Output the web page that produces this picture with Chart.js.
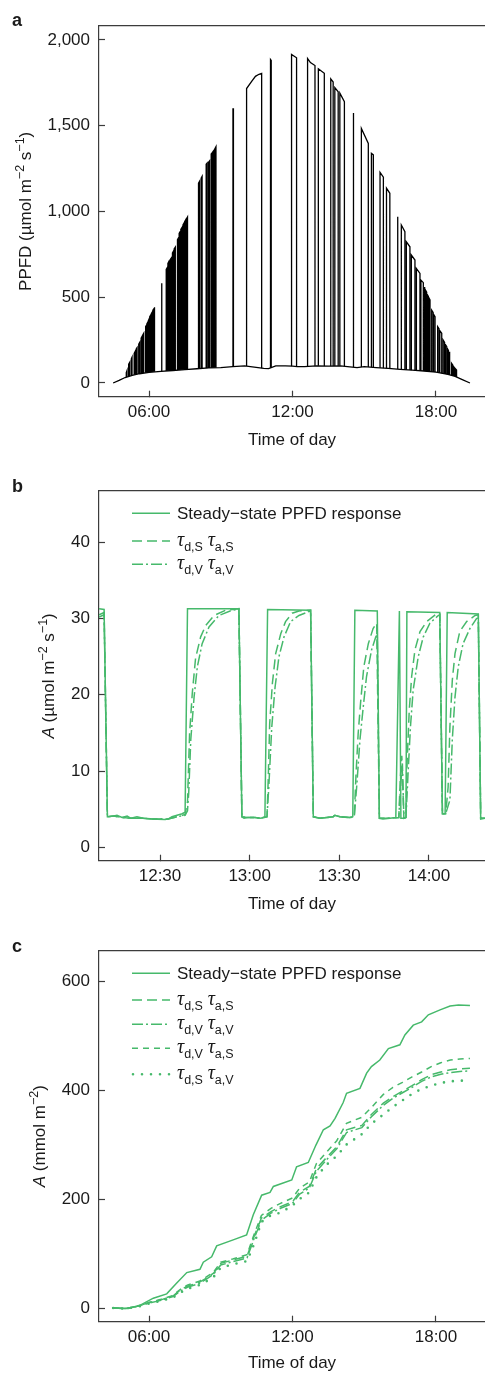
<!DOCTYPE html>
<html>
<head>
<meta charset="utf-8">
<title>PPFD and leaf assimilation</title>
<script src="https://cdn.jsdelivr.net/npm/chart.js"></script>
<style>
  html, body { margin: 0; padding: 0; background: #fff; }
  body { width: 485px; height: 1374px; overflow: hidden; position: relative; }
  canvas { position: absolute; left: 0; }
</style>
</head>
<body>
<canvas id="chartA" width="485" height="462" style="top:0"></canvas>
<canvas id="chartB" width="485" height="468" style="top:462px"></canvas>
<canvas id="chartC" width="485" height="450" style="top:924px"></canvas>
<script>
// ---- panel a: PPFD over the day (hours) ----
// diffuse background light under the canopy
const aBase = [[4.50,0],[4.75,15],[5.0,32],[5.3,45],[5.6,54],[6.0,62],[6.5,68],[7.0,73],[7.5,78],
  [8.0,83],[8.5,88],[9.0,90],[9.5,95],[10.0,100],[10.8,85],[11.0,84],[11.3,100],[11.7,100],[12.0,98],
  [12.2,95],[12.5,95],[13.0,100],[13.5,98],[14.0,100],[14.3,96],[14.7,90],[15.0,95],[15.5,90],[16.0,85],
  [16.5,80],[17.0,75],[17.5,70],[18.0,63],[18.5,50],[18.8,38],[19.1,20],[19.42,0]];
// sunflecks: [start, end, PPFD at start, PPFD at end]
const aSpikes = [
  [5.05,5.08,60,72],[5.15,5.19,110,120],[5.26,5.29,140,150],[5.38,5.43,172,186],[5.47,5.50,200,206],
  [5.57,5.61,226,236],[5.67,5.71,262,272],[5.74,5.78,280,290],[5.86,5.89,330,336],[5.91,5.95,345,355],
  [5.97,6.00,362,372],[6.03,6.07,387,396],[6.10,6.13,405,412],[6.16,6.20,425,432],[6.21,6.24,436,442],
  [6.52,6.54,581,581],[6.72,6.76,662,672],[6.79,6.82,698,706],[6.84,6.87,710,716],[6.89,6.93,720,728],
  [6.98,7.02,758,768],[7.05,7.10,782,792],[7.19,7.23,835,845],[7.26,7.30,872,882],[7.33,7.37,896,905],
  [7.42,7.46,922,932],[7.49,7.53,940,950],[7.56,7.61,955,968],[8.07,8.11,1165,1175],[8.18,8.22,1195,1205],
  [8.39,8.43,1275,1282],[8.49,8.53,1288,1295],[8.60,8.64,1335,1342],[8.67,8.72,1348,1357],[8.75,8.80,1365,1378],
  [9.51,9.53,1598,1598],[10.08,10.71,1717,1805],[11.08,11.11,1886,1880],[11.96,12.17,1916,1896],
  [12.63,12.94,1892,1851],[13.08,13.33,1832,1806],[13.60,13.70,1773,1755],[13.77,13.91,1722,1698],
  [13.98,14.17,1690,1640],[14.53,14.56,1575,1570],[14.88,15.17,1484,1397],[15.30,15.38,1339,1330],
  [15.66,15.80,1228,1200],[15.93,16.07,1136,1106],[16.38,16.41,970,965],[16.55,16.70,921,882],
  [16.76,16.91,823,794],[16.97,17.12,746,717],[17.18,17.33,668,639],[17.37,17.47,600,585],
  [17.50,17.54,560,552],[17.57,17.61,540,530],[17.64,17.68,515,505],[17.71,17.75,495,484],
  [17.82,17.88,425,412],[17.90,17.96,400,386],[18.07,18.13,328,315],[18.16,18.24,305,290],
  [18.30,18.36,250,236],[18.39,18.45,225,212],[18.48,18.52,200,190],[18.55,18.58,182,173],
  [18.65,18.70,115,105],[18.74,18.78,95,88],[18.82,18.86,82,76]];
// extra points on the tops of the long sunflecks
const aSpikeExtra = [[10.3,1760],[10.45,1788],[10.6,1800],[12.75,1868]];
const aYTicks = [0, 500, 1000, 1500, 2000];
const aYLabels = ['0', '500', '1,000', '1,500', '2,000'];
const dayTicks = [6, 12, 18];
const dayLabels = ['06:00', '12:00', '18:00'];

// ---- panel b: A over minutes of the day ----
const bSteady = [[729.6,31.3],[731.3,31.2],[732.4,4.0],[734.6,4.1],[735.6,4.2],[737.3,3.9],[739.0,4.1],
  [740.3,3.8],[742.3,4.0],[744.3,3.8],[746.7,3.7],[751.7,3.65],[752.7,3.7],[754.0,4.0],[755.7,4.2],
  [757.4,4.4],[758.4,4.6],[759.2,31.3],[776.4,31.3],[777.4,4.0],[778.1,3.8],[779.4,3.9],[781.8,3.9],
  [783.8,3.8],[785.1,4.0],[786.0,31.2],[800.4,31.1],[801.3,4.0],[803.5,3.8],[807.9,4.0],[808.5,4.2],
  [810.2,4.0],[813.5,3.9],[814.5,4.0],[815.2,31.1],[822.7,31.0],[823.4,3.8],[824.6,3.7],[826.9,3.8],
  [828.9,3.9],[830.1,31.0],[830.6,3.8],[831.6,3.8],[832.3,3.9],[832.6,30.9],[843.6,30.8],[844.5,4.4],
  [845.4,4.4],[846.1,30.8],[856.5,30.6],[857.3,3.7],[858.7,3.8]];
const bSS = [[729.6,30.5],[731.3,30.8],[732.4,4.0],[734.6,4.1],[737.3,3.9],[740.3,3.8],[744.3,3.8],
  [748.0,3.7],[752.7,3.7],[755.7,4.0],[758.4,4.3],[759.2,6.0],[759.9,14.9],[760.8,20.2],[761.9,24.8],
  [763.6,27.6],[765.3,29.1],[768.1,30.4],[772.0,31.1],[776.4,31.3],[777.4,4.0],[779.4,3.9],[781.8,3.9],
  [783.8,3.8],[785.8,4.0],[786.2,8.8],[786.7,16.2],[787.6,21.5],[788.7,25.4],[790.4,28.0],[792.0,29.6],
  [794.2,30.7],[796.5,31.0],[800.4,31.1],[801.3,4.0],[803.5,3.8],[807.9,4.0],[808.5,4.2],[810.2,4.0],
  [813.5,3.9],[815.0,4.0],[815.6,9.7],[816.3,14.9],[817.1,18.9],[818.2,23.7],[819.7,26.7],[821.3,28.7],
  [822.5,29.4],[823.4,3.8],[826.9,3.8],[829.9,3.9],[830.4,9.0],[830.9,12.0],[831.6,3.8],[832.3,3.9],
  [832.7,11.4],[833.4,18.0],[834.2,22.4],[835.3,25.9],[837.0,28.3],[839.2,29.6],[842.5,30.6],[843.6,30.7],
  [844.5,4.4],[845.6,4.4],[846.4,7.9],[847.0,15.8],[847.8,21.9],[848.7,25.4],[850.3,28.3],[852.6,29.6],
  [855.4,30.4],[856.5,30.5],[857.3,3.8],[858.7,3.8]];
const bVV = [[729.6,30.2],[731.3,30.5],[732.4,4.0],[734.6,4.1],[737.3,3.9],[740.3,3.8],[744.3,3.8],
  [748.0,3.7],[752.7,3.7],[755.7,4.0],[758.4,4.2],[759.2,4.8],[759.6,7.1],[760.3,14.1],[761.4,19.7],
  [762.5,23.7],[764.1,26.7],[766.4,28.9],[769.7,30.4],[774.2,31.1],[776.4,31.2],[777.4,4.0],[779.4,3.9],
  [781.8,3.9],[783.8,3.8],[785.8,4.0],[786.4,7.9],[787.4,15.8],[788.5,21.0],[789.8,25.0],[791.5,27.6],
  [793.7,29.6],[796.5,30.4],[800.4,31.0],[801.3,4.0],[803.5,3.8],[807.9,4.0],[808.5,4.2],[810.2,4.0],
  [813.5,3.9],[815.0,4.0],[815.8,7.9],[816.9,14.1],[818.0,18.4],[819.1,22.4],[820.8,25.9],[822.2,27.6],
  [822.7,27.9],[823.4,3.8],[826.9,3.8],[829.9,3.9],[830.5,8.0],[831.1,11.0],[831.6,3.8],[832.3,3.9],
  [833.0,9.7],[833.8,15.8],[834.7,20.6],[836.4,25.0],[838.1,27.6],[840.3,29.4],[843.1,30.4],[843.6,30.5],
  [844.5,4.4],[845.6,4.4],[847.0,6.2],[847.8,14.1],[848.7,19.7],[849.8,23.7],[851.4,26.7],[853.7,28.7],
  [855.9,30.0],[856.5,30.1],[857.3,3.8],[858.7,3.8]];
const bYTicks = [0, 10, 20, 30, 40];
const bYLabels = ['0', '10', '20', '30', '40'];
const bXTicks = [750, 780, 810, 840];
const bXLabels = ['12:30', '13:00', '13:30', '14:00'];

// ---- panel c: cumulative A over the day (hours) ----
const cSteady = [[4.51,0],[5.13,-1],[5.62,5],[6.18,18],[6.74,26],[7.16,46],[7.58,65],[8.13,71],[8.27,84],
  [8.62,94],[8.83,114],[9.52,125],[10.08,134],[10.36,171],[10.71,207],[11.06,212],[11.20,223],[11.97,235],
  [12.17,259],[12.66,267],[12.98,299],[13.29,327],[13.57,334],[13.78,348],[14.12,377],[14.26,394],
  [14.82,403],[15.10,431],[15.30,443],[15.65,455],[16.01,476],[16.49,483],[16.70,501],[17.05,519],
  [17.40,525],[17.68,538],[18.17,547],[18.59,554],[18.94,556],[19.42,555]];
const cTime = [4.5, 5.0, 5.5, 6.0, 6.5, 7.0, 7.3, 7.6, 8.1, 8.4, 8.7, 9.0, 9.5, 10.1, 10.4, 10.7, 11.1, 11.5,
  12.0, 12.3, 12.7, 13.0, 13.4, 13.85, 14.26, 14.9, 15.3, 15.8, 16.2, 16.6, 17.0, 17.4, 17.8, 18.2, 18.6, 19.0, 19.42];
const cSS = [0, -1, 3, 10, 15, 22, 33, 40, 47, 55, 64, 82, 88, 95, 132, 165, 177, 186, 195, 213, 223, 256, 275,
  296, 327, 335, 355, 376, 388, 398, 408, 419, 428, 433, 437, 439, 440];
const cVV = [0, -1, 3, 9, 14, 21, 31, 38, 45, 53, 62, 79, 85, 92, 128, 161, 174, 183, 192, 209, 220, 251, 271,
  292, 322, 331, 351, 372, 385, 395, 405, 416, 424, 429, 432, 434, 435];
const cVS = [0, -1, 3, 10, 16, 23, 34, 42, 49, 57, 66, 84, 90, 98, 136, 170, 183, 192, 202, 220, 231, 265, 285,
  307, 339, 350, 368, 392, 405, 414, 424, 433, 443, 450, 455, 457, 458];
const cSV = [0, -1, 2, 8, 13, 19, 28, 35, 42, 49, 57, 74, 80, 86, 118, 158, 170, 175, 188, 200, 212, 240, 262,
  279, 300, 319, 338, 355, 369, 381, 393, 402, 408, 413, 416, 417, 418];
const cYTicks = [0, 200, 400, 600];
const cYLabels = ['0', '200', '400', '600'];

const steadyLabel = 'Steady\u2212state PPFD response';
const tauLabels = [['d,S', 'a,S'], ['d,V', 'a,V'], ['d,V', 'a,S'], ['d,S', 'a,V']];

// ---- styling ----
const INK = '#1a1a1a';
const AXIS = '#3c3c3c';
const GREEN = '#46b96b';
const SANS = "'Liberation Sans', Arial, sans-serif";
const SERIF = "'Liberation Serif', 'DejaVu Serif', serif";
const DASH = { solid: [], long: [10, 5], dashdot: [11, 3, 2, 3], short: [6, 5], dot: [0, 9] };
const SPIKE_FOOT = 12; // spike lines start below the diffuse curve, which masks them

Chart.defaults.font.family = SANS;
Chart.defaults.font.size = 17;
Chart.defaults.color = INK;

const pairs = arr => arr.map(p => ({ x: p[0], y: p[1] }));
const onTime = (ts, vs) => ts.map((t, i) => ({ x: t, y: vs[i] }));

function partFont(p) {
  if (p.tau) return 'italic 20px ' + SERIF;
  if (p.sup || p.sub) return '12.5px ' + SANS;
  return (p.it ? 'italic ' : '') + '17px ' + SANS;
}
function drawRich(ctx, parts, x, y, center) {
  let w = 0;
  parts.forEach(p => { ctx.font = partFont(p); w += ctx.measureText(p.t).width; });
  let cx = center ? x - w / 2 : x;
  parts.forEach(p => {
    ctx.font = partFont(p);
    ctx.fillText(p.t, cx, y + (p.sup ? -6.5 : p.sub ? 5 : 0));
    cx += ctx.measureText(p.t).width;
  });
}
const tau = ([d, a]) => [{ t: '\u03c4', tau: true }, { t: d, sub: true }, { t: ' ' },
  { t: '\u03c4', tau: true }, { t: a, sub: true }];

// panel letter, rotated y title and in-plot legend
const decor = {
  id: 'decor',
  afterDraw(chart, args, o) {
    const ctx = chart.ctx, area = chart.chartArea;
    ctx.save();
    ctx.fillStyle = INK;
    ctx.textAlign = 'left';
    ctx.textBaseline = 'alphabetic';
    ctx.font = 'bold 18px ' + SANS;
    ctx.fillText(o.letter, 12, o.letterY);

    ctx.save();
    ctx.translate(o.yTitleX, (area.top + area.bottom) / 2);
    ctx.rotate(-Math.PI / 2);
    drawRich(ctx, o.yTitle, 0, 6, true);
    ctx.restore();

    (o.legend || []).forEach((item, i) => {
      const y = area.top + o.legendY[i];
      ctx.save();
      ctx.strokeStyle = GREEN;
      ctx.lineWidth = item.dash === DASH.dot ? 2.6 : 1.5;
      ctx.lineCap = item.dash === DASH.dot ? 'round' : 'butt';
      ctx.setLineDash(item.dash);
      ctx.beginPath();
      ctx.moveTo(area.left + 33 + (item.dash === DASH.dot ? 1 : 0), y);
      ctx.lineTo(area.left + 71, y);
      ctx.stroke();
      ctx.restore();
      drawRich(ctx, item.parts, area.left + 78, y + (item.tau ? 4.7 : 6), false);
    });
    ctx.restore();
  }
};

function scales(o) {
  return {
    x: {
      type: 'linear', position: 'bottom', min: o.xmin, max: o.xmax,
      afterBuildTicks: s => { s.ticks = o.xticks.map(v => ({ value: v })); },
      afterFit: s => { s.height = o.bottom; },
      ticks: { callback: (v, i) => o.xlabels[i], padding: 11, maxRotation: 0, autoSkip: false },
      grid: { drawOnChartArea: false, tickLength: -6, tickColor: AXIS, tickWidth: 1.2 },
      border: { color: AXIS, width: 1.2 },
      title: { display: true, text: 'Time of day', padding: { top: 0, bottom: o.titlePad } }
    },
    x2: {
      type: 'linear', position: 'top', min: o.xmin, max: o.xmax,
      afterFit: s => { s.height = o.top; },
      ticks: { display: false },
      grid: { drawOnChartArea: false, drawTicks: false },
      border: { color: AXIS, width: 1.2 }
    },
    y: {
      type: 'linear', min: o.ymin, max: o.ymax,
      afterBuildTicks: s => { s.ticks = o.yticks.map(v => ({ value: v })); },
      afterFit: s => { s.width = 99; },
      ticks: { callback: (v, i) => o.ylabels[i], padding: 15 },
      grid: { drawOnChartArea: false, tickLength: -6, tickColor: AXIS, tickWidth: 1.2 },
      border: { color: AXIS, width: 1.2 }
    }
  };
}

function baseOptions(sc, dec) {
  return {
    responsive: false, animation: false, events: [],
    layout: { padding: 0 },
    elements: { point: { radius: 0 }, line: { tension: 0 } },
    plugins: { legend: { display: false }, tooltip: { enabled: false }, decor: dec },
    scales: sc
  };
}

// ---- chart a ----
const spikePts = [];
aSpikes.forEach(([on, off, v1, v2]) => {
  spikePts.push({ x: on, y: SPIKE_FOOT }, { x: on, y: v1 });
  aSpikeExtra.filter(p => p[0] > on && p[0] < off).forEach(p => spikePts.push({ x: p[0], y: p[1] }));
  spikePts.push({ x: off, y: v2 }, { x: off, y: SPIKE_FOOT }, { x: off, y: null });
});

new Chart(document.getElementById('chartA'), {
  type: 'line',
  data: {
    datasets: [
      { data: pairs(aBase), borderColor: '#000', borderWidth: 1.3, fill: 'origin', backgroundColor: '#fff' },
      { data: spikePts, borderColor: '#000', borderWidth: 1.3, spanGaps: false, fill: false }
    ]
  },
  options: baseOptions(scales({
    xmin: 3.909, xmax: 20.049, xticks: dayTicks, xlabels: dayLabels,
    ymin: -79.9, ymax: 2081.6, yticks: aYTicks, ylabels: aYLabels,
    top: 26, bottom: 65.3, titlePad: 11
  }), {
    letter: 'a', letterY: 26, yTitleX: 24.5,
    yTitle: [{ t: 'PPFD (\u00b5mol m' }, { t: '\u22122', sup: true }, { t: ' s' }, { t: '\u22121', sup: true }, { t: ')' }]
  }),
  plugins: [decor]
});

// ---- chart b ----
const greenLine = (data, dash) => ({ data: pairs(data), borderColor: GREEN, borderWidth: 1.5, borderDash: dash, fill: false });
new Chart(document.getElementById('chartB'), {
  type: 'line',
  data: { datasets: [greenLine(bSteady, DASH.solid), greenLine(bSS, DASH.long), greenLine(bVV, DASH.dashdot)] },
  options: baseOptions(scales({
    xmin: 729.59, xmax: 858.74, xticks: bXTicks, xlabels: bXLabels,
    ymin: -1.76, ymax: 46.73, yticks: bYTicks, ylabels: bYLabels,
    top: 29, bottom: 69.3, titlePad: 15.7
  }), {
    letter: 'b', letterY: 29.7, yTitleX: 47.5,
    yTitle: [{ t: 'A', it: true }, { t: ' (\u00b5mol m' }, { t: '\u22122', sup: true }, { t: ' s' }, { t: '\u22121', sup: true }, { t: ')' }],
    legendY: [22.3, 50, 73.3],
    legend: [
      { parts: [{ t: steadyLabel }], dash: DASH.solid },
      { parts: tau(tauLabels[0]), dash: DASH.long, tau: true },
      { parts: tau(tauLabels[1]), dash: DASH.dashdot, tau: true }
    ]
  }),
  plugins: [decor]
});

// ---- chart c ----
const dotted = { data: onTime(cTime, cSV), borderColor: GREEN, borderWidth: 2.6, borderDash: DASH.dot, borderCapStyle: 'round', fill: false };
new Chart(document.getElementById('chartC'), {
  type: 'line',
  data: {
    datasets: [
      greenLine(cSteady, DASH.solid),
      { data: onTime(cTime, cSS), borderColor: GREEN, borderWidth: 1.5, borderDash: DASH.long, fill: false },
      { data: onTime(cTime, cVV), borderColor: GREEN, borderWidth: 1.5, borderDash: DASH.dashdot, fill: false },
      { data: onTime(cTime, cVS), borderColor: GREEN, borderWidth: 1.5, borderDash: DASH.short, fill: false },
      dotted
    ]
  },
  options: baseOptions(scales({
    xmin: 3.909, xmax: 20.049, xticks: dayTicks, xlabels: dayLabels,
    ymin: -25.1, ymax: 655.6, yticks: cYTicks, ylabels: cYLabels,
    top: 26.7, bottom: 52.3, titlePad: 0
  }), {
    letter: 'c', letterY: 27.7, yTitleX: 38.5,
    yTitle: [{ t: 'A', it: true }, { t: ' (mmol m' }, { t: '\u22122', sup: true }, { t: ')' }],
    legendY: [22.6, 49.3, 73.6, 97.6, 123.6],
    legend: [
      { parts: [{ t: steadyLabel }], dash: DASH.solid },
      { parts: tau(tauLabels[0]), dash: DASH.long, tau: true },
      { parts: tau(tauLabels[1]), dash: DASH.dashdot, tau: true },
      { parts: tau(tauLabels[2]), dash: DASH.short, tau: true },
      { parts: tau(tauLabels[3]), dash: DASH.dot, tau: true }
    ]
  }),
  plugins: [decor]
});
</script>
</body>
</html>
